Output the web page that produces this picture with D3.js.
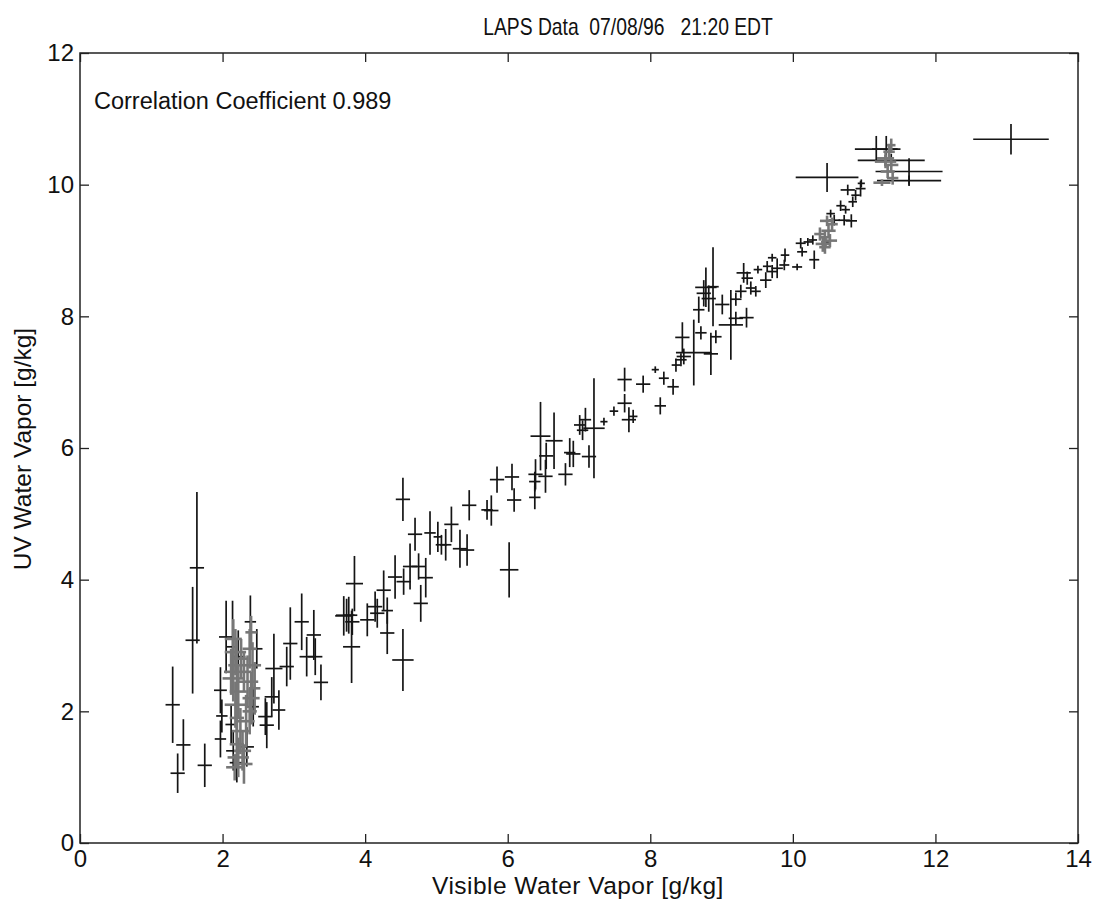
<!DOCTYPE html>
<html>
<head>
<meta charset="utf-8">
<script src="https://cdn.jsdelivr.net/npm/d3@7/dist/d3.min.js"></script>
<style>
  html, body { margin: 0; padding: 0; background: #fff; }
  svg { display: block; font-family: "Liberation Sans", Arial, Helvetica, sans-serif; }
</style>
</head>
<body>
<svg id="chart" width="1097" height="911"></svg>
<script>
// ---- Data ----
const titleText = "LAPS Data  07/08/96   21:20 EDT";
const xLabel = "Visible Water Vapor [g/kg]";
const yLabel = "UV Water Vapor [g/kg]";
const corrText = "Correlation Coefficient 0.989";
const xTicks = [0, 2, 4, 6, 8, 10, 12, 14];
const yTicks = [0, 2, 4, 6, 8, 10, 12];

// black error-bar crosses: [x, y, xErr, yErr]
const blackX = [1.64,1.58,1.30,1.45,1.37,1.75,1.97,1.99,1.97,2.05,2.14,2.22,2.12,2.15,2.20,2.34,2.39,2.48,2.43,2.60,2.62,2.69,2.72,2.79,2.90,2.95,3.11,3.18,3.28,3.30,3.38,3.70,3.74,3.77,3.81,3.82,3.85,4.03,4.17,4.14,4.26,4.31,4.31,4.42,4.54,4.53,4.53,4.63,4.75,4.78,4.85,4.70,4.91,5.02,5.07,5.13,5.21,5.33,5.43,5.46,5.71,5.77,5.85,6.06,6.09,6.02,6.39,6.38,6.38,6.46,6.54,6.53,6.65,6.81,6.87,6.92,7.01,7.05,7.09,7.14,7.21,7.35,7.49,7.64,7.70,7.76,7.64,7.90,8.07,8.19,8.14,8.32,8.45,8.43,8.47,8.36,8.61,8.85,8.71,8.92,8.78,8.82,8.68,8.75,8.88,9.01,9.13,9.20,9.35,9.20,9.27,9.31,9.36,9.41,9.48,9.51,9.62,9.64,9.71,9.71,9.78,9.89,9.88,10.06,10.11,10.13,10.21,10.30,10.28,10.46,10.58,10.53,10.72,10.82,10.67,10.74,10.84,10.88,10.77,10.95,10.96,10.48,11.17,11.31,11.38,11.63,11.63,13.06];
const blackY = [4.18,3.08,2.10,1.49,1.06,1.18,2.32,1.93,1.58,3.13,2.98,2.83,1.80,1.40,1.22,1.46,3.36,2.95,2.07,1.92,1.79,2.22,2.65,2.02,2.68,3.03,3.36,2.83,3.16,2.83,2.44,3.45,3.46,3.46,2.98,3.36,3.94,3.39,3.49,3.59,3.84,3.53,3.19,4.04,3.97,2.78,5.22,4.20,4.20,3.64,4.03,4.69,4.71,4.65,4.53,4.53,4.84,4.47,4.45,5.13,5.06,5.05,5.52,5.56,5.21,4.15,5.60,5.49,5.25,6.18,5.88,5.57,6.11,5.60,5.93,5.91,6.35,6.27,6.43,5.87,6.30,6.40,6.56,6.68,6.43,6.48,7.04,6.97,7.19,7.06,6.64,6.93,7.68,7.34,7.39,7.26,7.45,7.43,7.75,7.69,8.44,8.27,8.10,8.35,8.45,8.18,7.87,7.97,7.98,8.26,8.38,8.66,8.58,8.43,8.38,8.71,8.55,8.76,8.89,8.68,8.73,8.93,8.78,8.75,9.11,8.98,9.13,8.86,9.16,9.13,9.46,9.56,9.46,9.45,9.68,9.62,9.74,9.84,9.92,9.94,10.02,10.11,10.54,10.54,10.37,10.20,10.06,10.69];
const blackXErr = [0.10,0.10,0.10,0.10,0.10,0.10,0.09,0.08,0.08,0.10,0.08,0.10,0.08,0.10,0.10,0.10,0.08,0.08,0.08,0.10,0.10,0.10,0.12,0.09,0.10,0.10,0.10,0.10,0.10,0.10,0.10,0.12,0.15,0.08,0.12,0.10,0.12,0.10,0.10,0.10,0.10,0.08,0.10,0.10,0.10,0.15,0.10,0.10,0.10,0.10,0.10,0.10,0.08,0.06,0.08,0.08,0.10,0.10,0.10,0.10,0.08,0.10,0.10,0.10,0.10,0.13,0.10,0.08,0.08,0.14,0.10,0.10,0.12,0.10,0.08,0.10,0.08,0.08,0.08,0.10,0.15,0.05,0.06,0.10,0.10,0.06,0.10,0.10,0.05,0.07,0.08,0.08,0.10,0.08,0.10,0.06,0.25,0.10,0.08,0.08,0.15,0.10,0.08,0.10,0.08,0.10,0.17,0.10,0.10,0.08,0.08,0.10,0.08,0.07,0.07,0.06,0.08,0.06,0.06,0.08,0.08,0.06,0.07,0.07,0.07,0.07,0.06,0.07,0.06,0.06,0.08,0.06,0.08,0.08,0.06,0.06,0.06,0.06,0.10,0.07,0.05,0.44,0.30,0.20,0.47,0.47,0.45,0.53];
const blackYErr = [1.15,0.81,0.58,0.39,0.30,0.33,0.35,0.25,0.28,0.55,0.70,0.40,0.30,0.30,0.30,0.30,0.40,0.30,0.30,0.28,0.35,0.30,0.53,0.30,0.30,0.55,0.43,0.30,0.38,0.28,0.27,0.30,0.25,0.28,0.55,0.20,0.42,0.25,0.22,0.23,0.30,0.20,0.32,0.33,0.20,0.47,0.33,0.35,0.20,0.28,0.30,0.25,0.33,0.23,0.15,0.24,0.27,0.29,0.24,0.23,0.15,0.23,0.20,0.20,0.18,0.42,0.23,0.15,0.18,0.52,0.20,0.25,0.43,0.17,0.22,0.20,0.15,0.15,0.18,0.17,0.76,0.06,0.07,0.14,0.19,0.10,0.18,0.13,0.05,0.10,0.13,0.12,0.23,0.10,0.12,0.10,0.50,0.32,0.10,0.10,0.30,0.20,0.20,0.20,0.60,0.15,0.53,0.10,0.15,0.10,0.10,0.15,0.10,0.10,0.08,0.06,0.12,0.08,0.06,0.10,0.15,0.10,0.08,0.05,0.08,0.07,0.06,0.14,0.07,0.07,0.08,0.06,0.08,0.10,0.08,0.06,0.08,0.08,0.08,0.12,0.06,0.22,0.20,0.20,0.10,0.20,0.08,0.23];

// grey error-bar crosses
const greyX = [2.15,2.18,2.20,2.15,2.22,2.18,2.20,2.25,2.20,2.22,2.30,2.40,2.38,2.42,2.35,2.40,2.38,2.33,2.30,2.26,2.12,2.28,2.45,2.17,10.45,10.50,10.42,10.55,10.48,10.38,10.52,10.45,11.35,11.30,11.38,11.33,11.40,11.25,11.30,11.38];
const greyY = [3.10,2.90,2.70,2.50,2.30,2.10,1.90,1.70,1.50,1.30,1.20,3.20,2.95,2.70,2.45,2.20,2.00,1.85,2.60,2.80,2.60,1.40,2.35,1.15,9.20,9.30,9.10,9.40,9.45,9.25,9.15,9.05,10.50,10.40,10.30,10.20,10.10,10.03,10.35,10.60];
const greyXErr = [0.12,0.15,0.12,0.15,0.12,0.15,0.10,0.12,0.10,0.15,0.12,0.08,0.10,0.12,0.15,0.12,0.10,0.12,0.10,0.10,0.10,0.12,0.08,0.12,0.08,0.10,0.10,0.08,0.10,0.08,0.10,0.08,0.08,0.12,0.10,0.10,0.08,0.12,0.15,0.06];
const greyYErr = [0.30,0.35,0.40,0.35,0.40,0.35,0.40,0.35,0.35,0.30,0.30,0.25,0.30,0.35,0.40,0.40,0.35,0.40,0.30,0.30,0.35,0.30,0.40,0.20,0.10,0.10,0.12,0.10,0.08,0.10,0.10,0.10,0.12,0.10,0.12,0.10,0.10,0.05,0.10,0.10];

// ---- Layout ----
const svg = d3.select("#chart");
const L = 80, R = 1078, T = 53, B = 843;
const x = d3.scaleLinear().domain([0, 14]).range([L, R]);
const y = d3.scaleLinear().domain([0, 12]).range([B, T]);
const frameColor = "#222";

function toRows(xs, ys, xe, ye) {
  return xs.map((v, i) => ({ x: v, y: ys[i], xe: xe[i], ye: ye[i] }));
}
const blackRows = toRows(blackX, blackY, blackXErr, blackYErr);
const greyRows = toRows(greyX, greyY, greyXErr, greyYErr);

function drawCrosses(rows, color, width) {
  const g = svg.append("g").attr("stroke", color).attr("stroke-width", width).attr("fill", "none");
  g.selectAll("line.h").data(rows).join("line").attr("class", "h")
    .attr("x1", d => x(d.x - d.xe)).attr("x2", d => x(d.x + d.xe))
    .attr("y1", d => y(d.y)).attr("y2", d => y(d.y));
  g.selectAll("line.v").data(rows).join("line").attr("class", "v")
    .attr("x1", d => x(d.x)).attr("x2", d => x(d.x))
    .attr("y1", d => y(d.y - d.ye)).attr("y2", d => y(d.y + d.ye));
}
drawCrosses(blackRows, "#151515", 1.7);
drawCrosses(greyRows, "#777", 2.6);

// axes (ticks pointing inward, MATLAB style)
const tickLen = 9;
const axB = svg.append("g").attr("transform", `translate(0,${B})`)
  .call(d3.axisBottom(x).tickValues(xTicks).tickFormat(d3.format("d")).tickSizeInner(-tickLen).tickSizeOuter(0).tickPadding(6.5));
const axT = svg.append("g").attr("transform", `translate(0,${T})`)
  .call(d3.axisTop(x).tickValues(xTicks).tickFormat("").tickSizeInner(-tickLen).tickSizeOuter(0));
const axL = svg.append("g").attr("transform", `translate(${L},0)`)
  .call(d3.axisLeft(y).tickValues(yTicks).tickFormat(d3.format("d")).tickSizeInner(-tickLen).tickSizeOuter(0).tickPadding(6));
const axR = svg.append("g").attr("transform", `translate(${R},0)`)
  .call(d3.axisRight(y).tickValues(yTicks).tickFormat("").tickSizeInner(-tickLen).tickSizeOuter(0));
[axB, axT, axL, axR].forEach(a => {
  a.select(".domain").remove();
  a.selectAll("line").attr("stroke", frameColor).attr("stroke-width", 1.3);
  a.selectAll("text").attr("fill", "#111").style("font-size", "24px").style("font-family", "'Liberation Sans', Arial, sans-serif");
});

svg.append("rect").attr("x", L).attr("y", T).attr("width", R - L).attr("height", B - T)
  .attr("fill", "none").attr("stroke", frameColor).attr("stroke-width", 1.5);

// texts
svg.append("text").attr("transform", "translate(628,35) scale(0.84,1)").attr("text-anchor", "middle")
  .style("font-size", "23px").attr("fill", "#111").style("white-space", "pre").text(titleText);
svg.append("text").attr("x", 578).attr("y", 894).attr("text-anchor", "middle")
  .style("font-size", "24.5px").style("letter-spacing", "0.45px").attr("fill", "#111").text(xLabel);
svg.append("text").attr("transform", `translate(31,${449}) rotate(-90)`).attr("text-anchor", "middle")
  .style("font-size", "24.5px").attr("fill", "#111").text(yLabel);
svg.append("text").attr("x", 94).attr("y", 109)
  .style("font-size", "23.5px").attr("fill", "#111").text(corrText);
</script>
</body>
</html>
